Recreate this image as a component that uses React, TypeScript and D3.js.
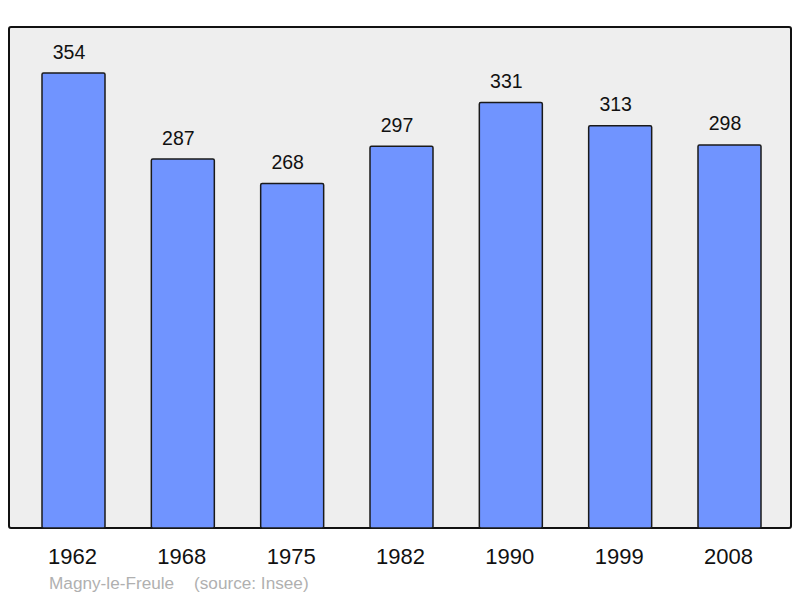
import React from "react";
import * as d3 from "d3";

const years = ["1962", "1968", "1975", "1982", "1990", "1999", "2008"];
const population = [354, 287, 268, 297, 331, 313, 298];
const commune = "Magny-le-Freule";
const source = "(source: Insee)";

export default function App() {
  const W = 800, H = 598;
  const frame = { x0: 9, y0: 27, x1: 791, y1: 528 };
  const x = d3.scalePoint<string>().domain(years).range([73.5, 729.5]);
  const y = d3.scaleLinear().domain([0, 354]).range([528, 73]);
  const bw = 63;
  const font = "'Liberation Sans', Arial, sans-serif";
  return (
    <svg width={W} height={H} style={{ position: "absolute", left: 0, top: 0 }} fontFamily={font}>
      <rect x={0} y={0} width={W} height={H} fill="#fff" />
      <rect x={frame.x0} y={frame.y0} width={frame.x1 - frame.x0} height={frame.y1 - frame.y0}
        fill="#eeeeee" stroke="#111" strokeWidth={2} rx={2} />
      {years.map((yr, i) => {
        const cx = x(yr)!;
        const top = y(population[i]);
        return (
          <g key={yr}>
            <rect x={cx - bw / 2} y={top} width={bw} height={y(0) - top}
              fill="#7094ff" stroke="#1a1a1a" strokeWidth={1.5} rx={1.5} />
            <text x={cx - 4.5} y={top - 14.5} textAnchor="middle" fontSize={19.5} fill="#111">{population[i]}</text>
            <text x={cx - 1} y={564} textAnchor="middle" fontSize={22} fill="#111">{yr}</text>
          </g>
        );
      })}
      <text x={49} y={589} fontSize={17.2} fill="#b0b0b0">{commune}</text>
      <text x={194} y={589} fontSize={17.2} fill="#b0b0b0">{source}</text>
    </svg>
  );
}
